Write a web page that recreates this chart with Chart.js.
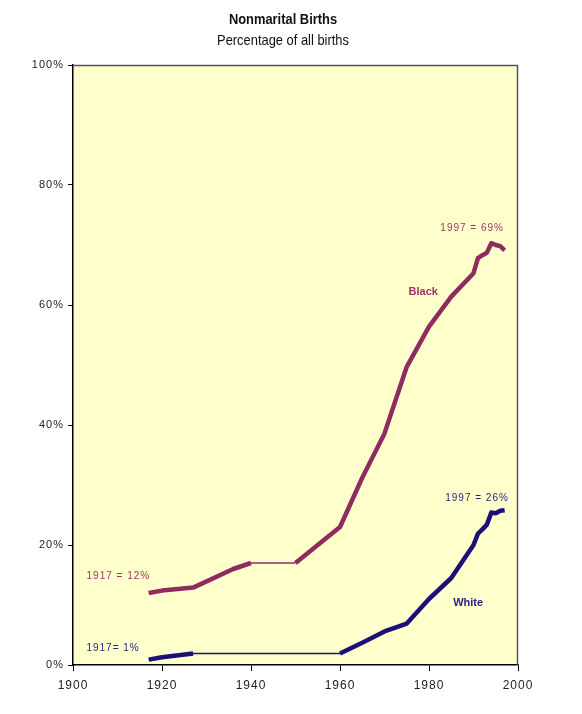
<!DOCTYPE html>
<html>
<head>
<meta charset="utf-8">
<script src="https://cdn.jsdelivr.net/npm/chart.js@4/dist/chart.umd.min.js"></script>
<style>
  html, body { margin: 0; padding: 0; background: #ffffff; }
  #wrap { width: 582px; height: 714px; position: relative; }
</style>
</head>
<body>
<div id="wrap"><canvas id="c" width="582" height="714"></canvas></div>
<script>
// ---- Data ----
const blackYears  = [1917, 1920, 1927, 1936, 1940, 1950, 1960, 1965, 1970, 1975, 1980, 1985, 1990, 1991, 1992, 1993, 1994, 1995, 1996, 1997];
const blackValues = [12.0, 12.4, 12.9, 16.0, 17.0, 17.0, 23.0, 31.2, 38.6, 49.7, 56.4, 61.4, 65.3, 67.8, 68.3, 68.7, 70.3, 70.0, 69.8, 69.1];
const whiteYears  = [1917, 1920, 1927, 1960, 1965, 1970, 1975, 1980, 1985, 1990, 1991, 1992, 1993, 1994, 1995, 1996, 1997];
const whiteValues = [0.9, 1.3, 1.9, 1.9, 3.7, 5.6, 6.9, 11.0, 14.5, 20.0, 21.9, 22.6, 23.4, 25.4, 25.3, 25.7, 25.8];
const xTicks = [1900, 1920, 1940, 1960, 1980, 2000];
const yTicks = [0, 20, 40, 60, 80, 100];
const titleText = "Nonmarital Births";
const subtitleText = "Percentage of all births";
const annotations = [
  { text: "1917 = 12%", x: 1910.2, y: 14.8, color: "#9E3468", bold: false },
  { text: "1917= 1%",   x: 1909.0, y: 2.8,  color: "#2A2480", bold: false },
  { text: "Black",      x: 1978.7, y: 62.2, color: "#9E3468", bold: true },
  { text: "1997 = 69%", x: 1989.7, y: 72.8, color: "#9E3468", bold: false },
  { text: "1997 = 26%", x: 1990.8, y: 27.8, color: "#2A2480", bold: false },
  { text: "White",      x: 1988.8, y: 10.3, color: "#2A2480", bold: true }
];

const BLACK_COLOR = "#8E2C5F";
const WHITE_COLOR = "#1B1078";

const toPoints = (xs, ys) => xs.map((x, i) => ({ x: x, y: ys[i] }));

// thin line for long flat stretches (no annual data), thick elsewhere
const segWidth = ctx => {
  const gap = ctx.p1.parsed.x - ctx.p0.parsed.x;
  const rise = Math.abs(ctx.p1.parsed.y - ctx.p0.parsed.y);
  return (gap >= 8 && rise < 0.5) ? 1.5 : 4.5;
};

const plotBg = {
  id: 'plotBg',
  beforeDraw(chart) {
    const { ctx, chartArea: a } = chart;
    ctx.letterSpacing = '1px';
    ctx.save();
    ctx.fillStyle = '#FFFFCC';
    ctx.fillRect(a.left, a.top, a.right - a.left, a.bottom - a.top);
    ctx.restore();
  },
  afterDraw(chart) {
    const { ctx, chartArea: a } = chart;
    ctx.save();
    ctx.strokeStyle = '#555555';
    ctx.lineWidth = 1.5;
    ctx.beginPath();
    ctx.moveTo(a.left, a.top + 0.5);
    ctx.lineTo(a.right - 0.5, a.top + 0.5);
    ctx.lineTo(a.right - 0.5, a.bottom);
    ctx.stroke();
    // titles (condensed look via horizontal scaling)
    ctx.letterSpacing = '0px';
    ctx.fillStyle = '#111111';
    ctx.textAlign = 'center';
    ctx.textBaseline = 'middle';
    ctx.save();
    ctx.translate(283, 0);
    ctx.scale(0.86, 1);
    ctx.font = 'bold 15px "Liberation Sans", Arial, sans-serif';
    ctx.fillText(titleText, 0, 20);
    ctx.font = '15px "Liberation Sans", Arial, sans-serif';
    ctx.fillText(subtitleText, 0, 41);
    ctx.restore();
    // annotations
    const xs = chart.scales.x, ys = chart.scales.y;
    annotations.forEach(an => {
      ctx.fillStyle = an.color;
      ctx.letterSpacing = an.bold ? '0px' : '1px';
      ctx.font = (an.bold ? 'bold 11px ' : '10px ') + '"Liberation Sans", Arial, sans-serif';
      ctx.fillText(an.text, xs.getPixelForValue(an.x), ys.getPixelForValue(an.y));
    });
    ctx.restore();
    ctx.letterSpacing = '0px';
  }
};

new Chart(document.getElementById('c'), {
  type: 'line',
  data: {
    datasets: [
      {
        label: 'Black',
        data: toPoints(blackYears, blackValues),
        borderColor: BLACK_COLOR,
        borderWidth: 4.5,
        pointRadius: 0,
        tension: 0,
        borderJoinStyle: 'round',
        segment: { borderWidth: segWidth }
      },
      {
        label: 'White',
        data: toPoints(whiteYears, whiteValues),
        borderColor: WHITE_COLOR,
        borderWidth: 4.5,
        pointRadius: 0,
        tension: 0,
        borderJoinStyle: 'round',
        segment: { borderWidth: segWidth }
      }
    ]
  },
  options: {
    responsive: false,
    animation: false,
    layout: { padding: { top: 65, right: 64, left: 0, bottom: 0 } },
    plugins: {
      legend: { display: false },
      title: { display: false },
      tooltip: { enabled: false }
    },
    scales: {
      x: {
        type: 'linear',
        min: 1900, max: 2000,
        afterBuildTicks: s => { s.ticks = xTicks.map(v => ({ value: v })); },
        afterFit: s => { s.height = 49; },
        grid: { display: true, drawOnChartArea: false, drawTicks: true, tickLength: 6, color: '#000000' },
        border: { display: true, color: '#000000', width: 1.5 },
        ticks: {
          color: '#222222',
          font: { family: '"Liberation Sans", Arial, sans-serif', size: 12 },
          padding: 7,
          maxRotation: 0,
          callback: v => String(v)
        }
      },
      y: {
        type: 'linear',
        min: 0, max: 100,
        afterBuildTicks: s => { s.ticks = yTicks.map(v => ({ value: v })); },
        afterFit: s => { s.width = 73; },
        grid: { display: true, drawOnChartArea: false, drawTicks: true, tickLength: 5, color: '#000000' },
        border: { display: true, color: '#000000', width: 1.5 },
        ticks: {
          color: '#222222',
          font: { family: '"Liberation Sans", Arial, sans-serif', size: 11 },
          padding: 4,
          callback: v => v + '%'
        }
      }
    }
  },
  plugins: [plotBg]
});
</script>
</body>
</html>
